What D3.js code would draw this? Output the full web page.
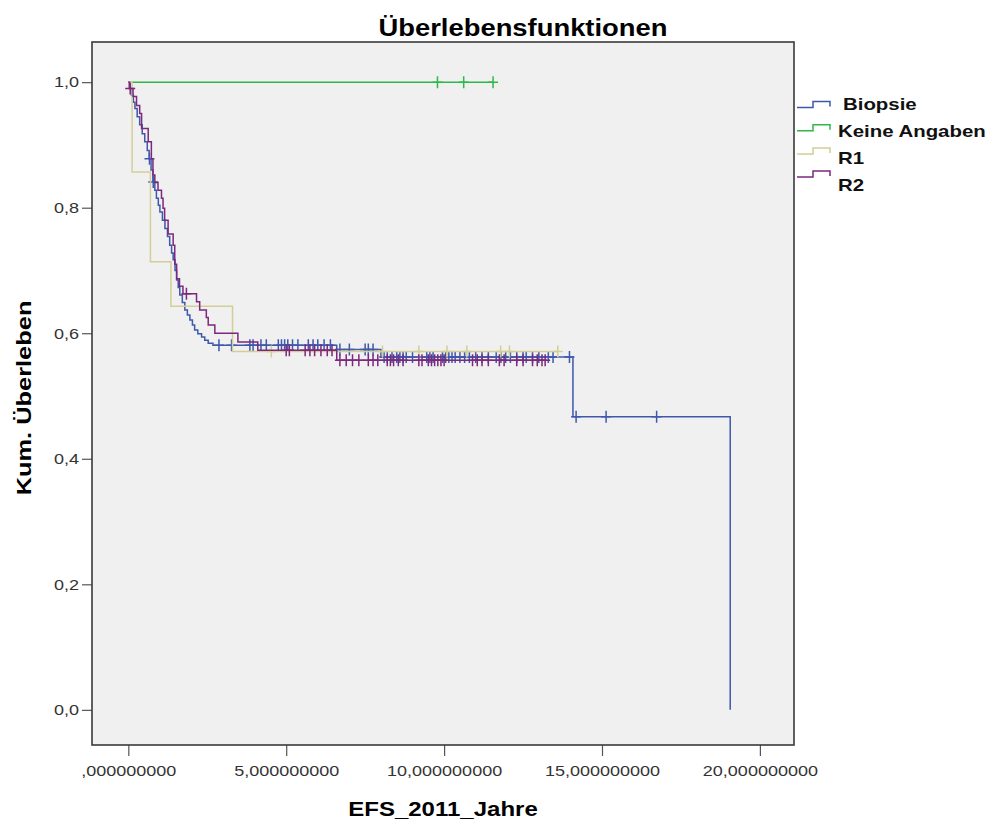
<!DOCTYPE html>
<html>
<head>
<meta charset="utf-8">
<script src="https://cdn.jsdelivr.net/npm/d3@7/dist/d3.min.js"></script>
<style>
body { margin: 0; background: #fff; }
text { font-family: Arial, "Liberation Sans", sans-serif; }
</style>
</head>
<body>
<div id="chart"></div>
<script>
var groups = ["Biopsie", "Keine Angaben", "R1", "R2"];
var colors = ["#3e58ac", "#2eb848", "#d3ce97", "#7c287d"];

// event times and survival after each event, censored times
var biopsieTimes = [0, 0.05, 0.10, 0.16, 0.21, 0.28, 0.36, 0.44, 0.52, 0.60, 0.66, 0.72, 0.78, 0.84, 0.89, 0.95, 1.00, 1.08, 1.16, 1.24, 1.31, 1.37, 1.42, 1.48, 1.53, 1.58, 1.63, 1.71, 1.79, 1.87, 1.95, 2.03, 2.10, 2.20, 2.32, 2.42, 2.53, 2.68, 6.60, 8.00, 14.08, 19.06];
var biopsieSurv = [1.0, 0.990, 0.979, 0.968, 0.958, 0.945, 0.932, 0.918, 0.905, 0.891, 0.878, 0.860, 0.841, 0.828, 0.815, 0.804, 0.793, 0.780, 0.767, 0.754, 0.740, 0.728, 0.717, 0.700, 0.685, 0.673, 0.661, 0.649, 0.637, 0.629, 0.621, 0.613, 0.605, 0.599, 0.594, 0.589, 0.584, 0.581, 0.574, 0.562, 0.467, 0.0];
var biopsieCens = [0.67, 0.79, 2.87, 3.27, 3.85, 3.95, 4.2, 4.37, 4.75, 4.85, 4.95, 5.05, 5.2, 5.37, 5.7, 5.85, 6.0, 6.2, 6.4, 6.7, 7.0, 7.5, 7.6, 7.75, 8.1, 8.2, 8.35, 8.5, 8.6, 8.7, 8.8, 9.0, 9.45, 9.55, 9.65, 9.95, 10.05, 10.15, 10.25, 10.35, 10.5, 10.65, 10.8, 11.0, 11.2, 11.4, 11.65, 11.8, 11.95, 12.1, 12.3, 12.5, 12.6, 12.8, 13.0, 13.3, 13.45, 13.97, 14.18, 15.13, 16.73];

var keineTimes = [0];
var keineSurv = [1.0];
var keineCens = [9.79, 10.62, 11.55];

var r1Times = [0, 0.12, 0.70, 1.35, 3.30];
var r1Surv = [1.0, 0.857, 0.714, 0.643, 0.571];
var r1Cens = [4.53, 8.05, 9.2, 10.09, 10.72, 11.79, 12.07, 13.6];

var r2Times = [0, 0.03, 0.15, 0.26, 0.36, 0.42, 0.63, 0.73, 0.78, 0.84, 0.94, 1.05, 1.10, 1.15, 1.26, 1.42, 1.47, 1.53, 1.62, 1.73, 2.16, 2.26, 2.47, 2.53, 2.74, 3.47, 4.10, 6.60];
var r2Surv = [1.0, 0.990, 0.977, 0.963, 0.950, 0.926, 0.905, 0.878, 0.852, 0.840, 0.828, 0.815, 0.799, 0.780, 0.758, 0.740, 0.710, 0.687, 0.675, 0.663, 0.650, 0.637, 0.625, 0.613, 0.600, 0.586, 0.573, 0.557];
var r2Cens = [0.06, 1.84, 5.0, 5.1, 5.6, 5.75, 5.9, 6.1, 6.3, 6.45, 6.7, 6.9, 7.1, 7.3, 7.6, 7.75, 7.9, 8.2, 8.3, 8.4, 8.55, 8.7, 9.2, 9.3, 9.5, 9.6, 9.7, 9.8, 9.9, 10.0, 10.9, 11.05, 11.2, 11.4, 11.75, 11.9, 12.3, 12.5, 12.8, 12.95, 13.1, 13.2];

var xTicks = [0, 5, 10, 15, 20];
var yTicks = [0, 0.2, 0.4, 0.6, 0.8, 1.0];

var width = 987, height = 823;
var plot = {left: 92, right: 794, top: 42, bottom: 745};

var series = [
  {times: biopsieTimes, surv: biopsieSurv, cens: biopsieCens},
  {times: keineTimes, surv: keineSurv, cens: keineCens},
  {times: r1Times, surv: r1Surv, cens: r1Cens},
  {times: r2Times, surv: r2Surv, cens: r2Cens}
];

var x = d3.scaleLinear().domain([-1.15, 21.08]).range([plot.left, plot.right]);
var y = d3.scaleLinear().domain([-0.056, 1.064]).range([plot.bottom, plot.top]);

var svg = d3.select("#chart").append("svg")
    .attr("width", width)
    .attr("height", height);

// the reference text is drawn wider than Arial, stretch it a bit
function stretch(sel, k) {
  sel.each(function() {
    var w = this.getComputedTextLength();
    d3.select(this).attr("textLength", w * k).attr("lengthAdjust", "spacingAndGlyphs");
  });
}

svg.append("rect")
    .attr("x", plot.left).attr("y", plot.top)
    .attr("width", plot.right - plot.left)
    .attr("height", plot.bottom - plot.top)
    .attr("fill", "#f0f0f0");

// axes
var fmtY = d => d3.format(".1f")(d).replace(".", ",");
var fmtX = d => d3.format(".9f")(d).replace(".", ",").replace(/^0,/, ",");

var yAxis = svg.append("g")
    .attr("transform", "translate(" + plot.left + ",0)")
    .call(d3.axisLeft(y).tickValues(yTicks).tickSize(10).tickPadding(3).tickFormat(fmtY));
var xAxis = svg.append("g")
    .attr("transform", "translate(0," + plot.bottom + ")")
    .call(d3.axisBottom(x).tickValues(xTicks).tickSize(11).tickPadding(9).tickFormat(fmtX));

[yAxis, xAxis].forEach(g => {
  g.select(".domain").remove();
  g.selectAll(".tick line").attr("stroke", "#555").attr("stroke-width", 1.2);
  g.selectAll(".tick text").attr("fill", "#333").style("font-size", "15px").call(stretch, 1.2);
});

// curves
var line = d3.line()
    .x(d => x(d[0]))
    .y(d => y(d[1]))
    .curve(d3.curveStepAfter);

function survAt(s, t) {
  var v = s.surv[0];
  s.times.forEach((tt, i) => { if (tt <= t) v = s.surv[i]; });
  return v;
}

var curves = svg.append("g");
series.forEach((s, i) => {
  var pts = s.times.map((t, j) => [t, s.surv[j]]);
  var lastT = s.times[s.times.length - 1];
  var end = Math.max(lastT, d3.max(s.cens) || 0);
  if (end > lastT) pts.push([end, s.surv[s.surv.length - 1]]);
  curves.append("path")
      .attr("d", line(pts))
      .attr("fill", "none")
      .attr("stroke", colors[i])
      .attr("stroke-width", 1.5);
  curves.append("g").selectAll("path")
    .data(s.cens)
    .join("path")
      .attr("transform", d => "translate(" + x(d) + "," + y(survAt(s, d)) + ")")
      .attr("d", "M-5,0H5M0,-6V6")
      .attr("stroke", colors[i])
      .attr("stroke-width", 1.5)
      .attr("fill", "none");
});

// frame
svg.append("rect")
    .attr("x", plot.left).attr("y", plot.top)
    .attr("width", plot.right - plot.left)
    .attr("height", plot.bottom - plot.top)
    .attr("fill", "none")
    .attr("stroke", "#3a3a3a")
    .attr("stroke-width", 1.6);

// titles
svg.append("text")
    .attr("x", 523).attr("y", 36)
    .attr("text-anchor", "middle")
    .style("font-size", "23px").style("font-weight", "bold")
    .text("Überlebensfunktionen")
    .call(stretch, 1.19);

svg.append("text")
    .attr("transform", "translate(31," + 398 + ") rotate(-90)")
    .attr("text-anchor", "middle")
    .style("font-size", "20px").style("font-weight", "bold")
    .text("Kum. Überleben")
    .call(stretch, 1.27);

svg.append("text")
    .attr("x", 443).attr("y", 816)
    .attr("text-anchor", "middle")
    .style("font-size", "20px").style("font-weight", "bold")
    .text("EFS_2011_Jahre")
    .call(stretch, 1.2);

// legend
var legend = svg.append("g").selectAll("g")
  .data(groups)
  .join("g");

legend.append("path")
    .attr("d", (d, i) => {
      var low = 107.5 + i * 23.2, high = low - 6;
      return "M797," + low + "H813V" + high + "H830V" + (low - 1);
    })
    .attr("fill", "none")
    .attr("stroke", (d, i) => colors[i])
    .attr("stroke-width", 1.5);

legend.append("text")
    .attr("x", (d, i) => i === 0 ? 843 : 838)
    .attr("y", (d, i) => 109.5 + i * 27.2)
    .style("font-size", "17px").style("font-weight", "bold")
    .attr("fill", "#111")
    .text(d => d)
    .call(stretch, 1.2);
</script>
</body>
</html>
